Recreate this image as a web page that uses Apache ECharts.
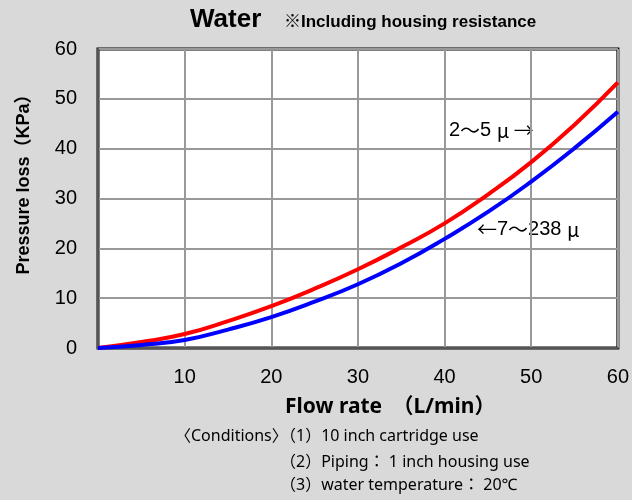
<!DOCTYPE html>
<html>
<head>
<meta charset="utf-8">
<style>
  html, body { margin: 0; padding: 0; background: #d9d9d9; }
  #chart { width: 632px; height: 500px; }
</style>
<script src="https://cdn.jsdelivr.net/npm/echarts@6/dist/echarts.min.js"></script>
</head>
<body>
<div id="chart"></div>
<script>
// 流量と圧力損失（読み取り値）
const flowRate = [0, 5, 10, 15, 20, 25, 30, 35, 40, 45, 50, 55, 60];
const loss2to5 = [0, 1.2, 2.8, 5.4, 8.4, 11.9, 15.8, 20.2, 25.0, 30.8, 37.3, 44.8, 53.3];
const loss7to238 = [0, 0.6, 1.6, 3.7, 6.2, 9.3, 12.8, 17.0, 21.9, 27.3, 33.4, 40.1, 47.4];
const yTicks = [0, 10, 20, 30, 40, 50, 60];

const latin = "'Liberation Sans', 'Noto Sans CJK JP', sans-serif";
const cjk = "'Noto Sans CJK JP', sans-serif";
const body = "'Noto Sans', 'Noto Sans CJK JP', sans-serif";

const pairs = (ys) => flowRate.map((x, i) => [x, ys[i]]);

// 曲線ラベル用のリッチテキスト
const curveRich = {
  n: { fontSize: 20, fontFamily: latin, fill: "#000" },
  j: { fontSize: 20, fontFamily: cjk, fill: "#000" },
};

const chart = echarts.init(document.getElementById("chart"));

const option = {
  backgroundColor: "#d9d9d9",
  animation: false,
  grid: {
    left: 98,
    right: 13,
    top: 49,
    bottom: 152,
    show: true,
    backgroundColor: "#fff",
    borderColor: "#000",
    borderWidth: 3,
  },
  xAxis: {
    type: "value",
    min: 0,
    max: 60,
    interval: 10,
    axisLine: { show: true, onZero: false, lineStyle: { color: "#555", width: 2 } },
    axisTick: { show: false },
    splitLine: { show: true, lineStyle: { color: "#999", width: 2 } },
    axisLabel: {
      color: "#000",
      fontSize: 20,
      fontFamily: latin,
      margin: 19,
      formatter: (v) => (v === 0 ? "" : String(v)),
    },
  },
  yAxis: {
    type: "value",
    min: 0,
    max: 60,
    interval: 10,
    axisLine: { show: true, lineStyle: { color: "#555", width: 2 } },
    axisTick: { show: false },
    splitLine: { show: true, lineStyle: { color: "#999", width: 2 } },
    axisLabel: {
      color: "#000",
      fontSize: 20,
      fontFamily: latin,
      margin: 21,
      formatter: (v) => (yTicks.includes(v) ? String(v) : ""),
    },
  },
  series: [
    {
      name: "2～5μ",
      type: "line",
      smooth: true,
      showSymbol: false,
      z: 3,
      lineStyle: { color: "#ff0000", width: 4 },
      data: pairs(loss2to5),
    },
    {
      name: "7～238μ",
      type: "line",
      smooth: true,
      showSymbol: false,
      z: 4,
      lineStyle: { color: "#0000ff", width: 4 },
      data: pairs(loss7to238),
    },
  ],
  graphic: [
    {
      type: "text",
      left: 190,
      top: 7,
      style: { text: "Water", fontSize: 26, fontWeight: "bold", fontFamily: latin, fill: "#000" },
    },
    {
      type: "text",
      left: 284,
      top: 14,
      style: { text: "※Including housing resistance", fontSize: 17, fontWeight: "bold", fontFamily: latin, fill: "#000" },
    },
    {
      type: "text",
      x: 24,
      y: 180,
      rotation: Math.PI / 2,
      style: {
        text: "Pressure loss（KPa）",
        fontSize: 18,
        fontWeight: "bold",
        fontFamily: latin,
        fill: "#000",
        align: "center",
        verticalAlign: "middle",
      },
    },
    {
      type: "text",
      left: 449,
      top: 120,
      style: { text: "{n|2}{j|～}{n|5 }{j|μ }{j|→}", rich: curveRich },
    },
    {
      type: "text",
      left: 477,
      top: 219,
      style: { text: "{j|←}{n|7}{j|～}{n|238 }{j|μ}", rich: curveRich },
    },
    {
      type: "text",
      left: 285,
      top: 397,
      style: { text: "Flow rate　（L/min）", fontSize: 21, fontWeight: "bold", fontFamily: body, fill: "#000" },
    },
    {
      type: "text",
      left: 175,
      top: 428,
      style: { text: "〈Conditions〉", fontSize: 16, fontFamily: body, fill: "#000" },
    },
    {
      type: "text",
      left: 280,
      top: 428,
      style: { text: "（1）10 inch cartridge use", fontSize: 16, fontFamily: body, fill: "#000" },
    },
    {
      type: "text",
      left: 280,
      top: 454,
      style: { text: "（2）Piping： 1 inch housing use", fontSize: 16, fontFamily: body, fill: "#000" },
    },
    {
      type: "text",
      left: 280,
      top: 477,
      style: { text: "（3）water temperature： 20℃", fontSize: 16, fontFamily: body, fill: "#000" },
    },
  ],
};

chart.setOption(option);
</script>
</body>
</html>
